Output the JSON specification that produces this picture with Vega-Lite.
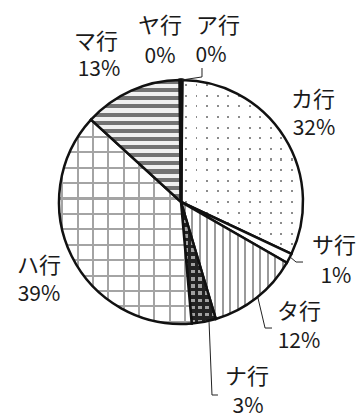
{
  "$schema": "https://vega.github.io/schema/vega-lite/v6.json",
  "width": 360,
  "height": 418,
  "autosize": {"type": "none"},
  "padding": 0,
  "background": "white",
  "config": {"view": {"stroke": null}},
  "datasets": {
    "slices": [
      {"k": "ア行", "v": 0.15, "o": 1},
      {"k": "カ行", "v": 31.85, "o": 2},
      {"k": "サ行", "v": 1.3, "o": 3},
      {"k": "タ行", "v": 12.1, "o": 4},
      {"k": "ナ行", "v": 3.2, "o": 5},
      {"k": "ハ行", "v": 38.2, "o": 6},
      {"k": "マ行", "v": 13.05, "o": 7},
      {"k": "ヤ行", "v": 0.15, "o": 8}
    ],
    "labels": [
      {"name": "マ行", "pct": "13%", "x": -0.697, "y": 1.311, "px": -0.672, "py": 1.082},
      {"name": "ヤ行", "pct": "0%", "x": -0.172, "y": 1.44, "px": -0.172, "py": 1.19},
      {"name": "ア行", "pct": "0%", "x": 0.303, "y": 1.44, "px": 0.246, "py": 1.2},
      {"name": "カ行", "pct": "32%", "x": 1.082, "y": 0.836, "px": 1.09, "py": 0.598},
      {"name": "サ行", "pct": "1%", "x": 1.254, "y": -0.361, "px": 1.27, "py": -0.615},
      {"name": "タ行", "pct": "12%", "x": 0.967, "y": -0.902, "px": 0.967, "py": -1.148},
      {"name": "ナ行", "pct": "3%", "x": 0.541, "y": -1.434, "px": 0.549, "py": -1.68},
      {"name": "ハ行", "pct": "39%", "x": -1.164, "y": -0.525, "px": -1.164, "py": -0.762}
    ],
    "leaders": [
      {"id": "a", "i": 1, "x": 0.008, "y": 1.0},
      {"id": "a", "i": 2, "x": 0.172, "y": 1.025},
      {"id": "a", "i": 3, "x": 0.172, "y": 1.098},
      {"id": "s", "i": 1, "x": 0.885, "y": -0.443},
      {"id": "s", "i": 2, "x": 0.943, "y": -0.492},
      {"id": "s", "i": 3, "x": 1.0, "y": -0.492},
      {"id": "t", "i": 1, "x": 0.631, "y": -0.787},
      {"id": "t", "i": 2, "x": 0.689, "y": -1.033},
      {"id": "t", "i": 3, "x": 0.746, "y": -1.033},
      {"id": "n", "i": 1, "x": 0.23, "y": -0.984},
      {"id": "n", "i": 2, "x": 0.254, "y": -1.582},
      {"id": "n", "i": 3, "x": 0.303, "y": -1.582}
    ]
  },
  "layer": [
    {
      "data": {"name": "slices"},
      "transform": [
        {"stack": "v", "groupby": [], "sort": [{"field": "o", "order": "ascending"}], "as": ["v0", "v1"]},
        {"filter": "datum.k === 'カ行'"}
      ],
      "mark": {"type": "arc", "radius": 122, "strokeWidth": 0, "fill": {"gradient": "linear", "x1": 0, "y1": 0, "x2": 1, "y2": 0, "stops": [
        {"offset": 0, "color": "#ffffff"}, {"offset": 0.032, "color": "#ffffff"}, {"offset": 0.032, "color": "#8c8c8c"}, {"offset": 0.048, "color": "#8c8c8c"}, {"offset": 0.048, "color": "#ffffff"},
        {"offset": 0.119, "color": "#ffffff"}, {"offset": 0.119, "color": "#8c8c8c"}, {"offset": 0.135, "color": "#8c8c8c"}, {"offset": 0.135, "color": "#ffffff"},
        {"offset": 0.206, "color": "#ffffff"}, {"offset": 0.206, "color": "#8c8c8c"}, {"offset": 0.222, "color": "#8c8c8c"}, {"offset": 0.222, "color": "#ffffff"},
        {"offset": 0.293, "color": "#ffffff"}, {"offset": 0.293, "color": "#8c8c8c"}, {"offset": 0.309, "color": "#8c8c8c"}, {"offset": 0.309, "color": "#ffffff"},
        {"offset": 0.38, "color": "#ffffff"}, {"offset": 0.38, "color": "#8c8c8c"}, {"offset": 0.396, "color": "#8c8c8c"}, {"offset": 0.396, "color": "#ffffff"},
        {"offset": 0.467, "color": "#ffffff"}, {"offset": 0.467, "color": "#8c8c8c"}, {"offset": 0.483, "color": "#8c8c8c"}, {"offset": 0.483, "color": "#ffffff"},
        {"offset": 0.554, "color": "#ffffff"}, {"offset": 0.554, "color": "#8c8c8c"}, {"offset": 0.57, "color": "#8c8c8c"}, {"offset": 0.57, "color": "#ffffff"},
        {"offset": 0.641, "color": "#ffffff"}, {"offset": 0.641, "color": "#8c8c8c"}, {"offset": 0.657, "color": "#8c8c8c"}, {"offset": 0.657, "color": "#ffffff"},
        {"offset": 0.728, "color": "#ffffff"}, {"offset": 0.728, "color": "#8c8c8c"}, {"offset": 0.744, "color": "#8c8c8c"}, {"offset": 0.744, "color": "#ffffff"},
        {"offset": 0.815, "color": "#ffffff"}, {"offset": 0.815, "color": "#8c8c8c"}, {"offset": 0.831, "color": "#8c8c8c"}, {"offset": 0.831, "color": "#ffffff"},
        {"offset": 0.902, "color": "#ffffff"}, {"offset": 0.902, "color": "#8c8c8c"}, {"offset": 0.918, "color": "#8c8c8c"}, {"offset": 0.918, "color": "#ffffff"},
        {"offset": 1, "color": "#ffffff"}
      ]}},
      "encoding": {
        "theta": {"field": "v0", "type": "quantitative", "scale": {"domain": [0, 100], "range": [0, 6.283185]}},
        "theta2": {"field": "v1"},
        "x": {"datum": 0, "type": "quantitative", "scale": {"domain": [-1.4836, 1.4672], "nice": false, "zero": false}, "axis": null},
        "y": {"datum": 0, "type": "quantitative", "scale": {"domain": [-1.7705, 1.6557], "nice": false, "zero": false}, "axis": null}
      }
    },
    {
      "data": {"name": "slices"},
      "transform": [
        {"stack": "v", "groupby": [], "sort": [{"field": "o", "order": "ascending"}], "as": ["v0", "v1"]},
        {"filter": "datum.k === 'カ行'"}
      ],
      "mark": {"type": "arc", "radius": 122, "stroke": "#111111", "strokeWidth": 2.5, "fill": {"gradient": "linear", "x1": 0, "y1": 0, "x2": 0, "y2": 1, "stops": [
        {"offset": 0, "color": "#ffffff"}, {"offset": 0.024, "color": "#ffffff"}, {"offset": 0.024, "color": "rgba(255,255,255,0)"}, {"offset": 0.036, "color": "rgba(255,255,255,0)"}, {"offset": 0.036, "color": "#ffffff"},
        {"offset": 0.085, "color": "#ffffff"}, {"offset": 0.085, "color": "rgba(255,255,255,0)"}, {"offset": 0.097, "color": "rgba(255,255,255,0)"}, {"offset": 0.097, "color": "#ffffff"},
        {"offset": 0.146, "color": "#ffffff"}, {"offset": 0.146, "color": "rgba(255,255,255,0)"}, {"offset": 0.158, "color": "rgba(255,255,255,0)"}, {"offset": 0.158, "color": "#ffffff"},
        {"offset": 0.207, "color": "#ffffff"}, {"offset": 0.207, "color": "rgba(255,255,255,0)"}, {"offset": 0.219, "color": "rgba(255,255,255,0)"}, {"offset": 0.219, "color": "#ffffff"},
        {"offset": 0.268, "color": "#ffffff"}, {"offset": 0.268, "color": "rgba(255,255,255,0)"}, {"offset": 0.28, "color": "rgba(255,255,255,0)"}, {"offset": 0.28, "color": "#ffffff"},
        {"offset": 0.329, "color": "#ffffff"}, {"offset": 0.329, "color": "rgba(255,255,255,0)"}, {"offset": 0.341, "color": "rgba(255,255,255,0)"}, {"offset": 0.341, "color": "#ffffff"},
        {"offset": 0.39, "color": "#ffffff"}, {"offset": 0.39, "color": "rgba(255,255,255,0)"}, {"offset": 0.402, "color": "rgba(255,255,255,0)"}, {"offset": 0.402, "color": "#ffffff"},
        {"offset": 0.451, "color": "#ffffff"}, {"offset": 0.451, "color": "rgba(255,255,255,0)"}, {"offset": 0.463, "color": "rgba(255,255,255,0)"}, {"offset": 0.463, "color": "#ffffff"},
        {"offset": 0.512, "color": "#ffffff"}, {"offset": 0.512, "color": "rgba(255,255,255,0)"}, {"offset": 0.524, "color": "rgba(255,255,255,0)"}, {"offset": 0.524, "color": "#ffffff"},
        {"offset": 0.573, "color": "#ffffff"}, {"offset": 0.573, "color": "rgba(255,255,255,0)"}, {"offset": 0.585, "color": "rgba(255,255,255,0)"}, {"offset": 0.585, "color": "#ffffff"},
        {"offset": 0.634, "color": "#ffffff"}, {"offset": 0.634, "color": "rgba(255,255,255,0)"}, {"offset": 0.646, "color": "rgba(255,255,255,0)"}, {"offset": 0.646, "color": "#ffffff"},
        {"offset": 0.695, "color": "#ffffff"}, {"offset": 0.695, "color": "rgba(255,255,255,0)"}, {"offset": 0.707, "color": "rgba(255,255,255,0)"}, {"offset": 0.707, "color": "#ffffff"},
        {"offset": 0.756, "color": "#ffffff"}, {"offset": 0.756, "color": "rgba(255,255,255,0)"}, {"offset": 0.768, "color": "rgba(255,255,255,0)"}, {"offset": 0.768, "color": "#ffffff"},
        {"offset": 0.817, "color": "#ffffff"}, {"offset": 0.817, "color": "rgba(255,255,255,0)"}, {"offset": 0.829, "color": "rgba(255,255,255,0)"}, {"offset": 0.829, "color": "#ffffff"},
        {"offset": 0.878, "color": "#ffffff"}, {"offset": 0.878, "color": "rgba(255,255,255,0)"}, {"offset": 0.89, "color": "rgba(255,255,255,0)"}, {"offset": 0.89, "color": "#ffffff"},
        {"offset": 0.939, "color": "#ffffff"}, {"offset": 0.939, "color": "rgba(255,255,255,0)"}, {"offset": 0.951, "color": "rgba(255,255,255,0)"}, {"offset": 0.951, "color": "#ffffff"},
        {"offset": 1, "color": "#ffffff"}
      ]}},
      "encoding": {
        "theta": {"field": "v0", "type": "quantitative", "scale": {"domain": [0, 100], "range": [0, 6.283185]}},
        "theta2": {"field": "v1"},
        "x": {"datum": 0, "type": "quantitative", "scale": {"domain": [-1.4836, 1.4672], "nice": false, "zero": false}, "axis": null},
        "y": {"datum": 0, "type": "quantitative", "scale": {"domain": [-1.7705, 1.6557], "nice": false, "zero": false}, "axis": null}
      }
    },
    {
      "data": {"name": "slices"},
      "transform": [
        {"stack": "v", "groupby": [], "sort": [{"field": "o", "order": "ascending"}], "as": ["v0", "v1"]},
        {"filter": "datum.k === 'サ行'"}
      ],
      "mark": {"type": "arc", "radius": 122, "stroke": "#111111", "strokeWidth": 2.5, "fill": "#ffffff"},
      "encoding": {
        "theta": {"field": "v0", "type": "quantitative", "scale": {"domain": [0, 100], "range": [0, 6.283185]}},
        "theta2": {"field": "v1"},
        "x": {"datum": 0, "type": "quantitative", "scale": {"domain": [-1.4836, 1.4672], "nice": false, "zero": false}, "axis": null},
        "y": {"datum": 0, "type": "quantitative", "scale": {"domain": [-1.7705, 1.6557], "nice": false, "zero": false}, "axis": null}
      }
    },
    {
      "data": {"name": "slices"},
      "transform": [
        {"stack": "v", "groupby": [], "sort": [{"field": "o", "order": "ascending"}], "as": ["v0", "v1"]},
        {"filter": "datum.k === 'タ行'"}
      ],
      "mark": {"type": "arc", "radius": 122, "stroke": "#111111", "strokeWidth": 2.5, "fill": {"gradient": "linear", "x1": 0, "y1": 0, "x2": 1, "y2": 0, "stops": [
        {"offset": 0, "color": "#ffffff"}, {"offset": 0.0262, "color": "#ffffff"}, {"offset": 0.0262, "color": "#9a9a9a"}, {"offset": 0.0452, "color": "#9a9a9a"}, {"offset": 0.0452, "color": "#ffffff"},
        {"offset": 0.0976, "color": "#ffffff"}, {"offset": 0.0976, "color": "#9a9a9a"}, {"offset": 0.1166, "color": "#9a9a9a"}, {"offset": 0.1166, "color": "#ffffff"},
        {"offset": 0.1691, "color": "#ffffff"}, {"offset": 0.1691, "color": "#9a9a9a"}, {"offset": 0.1881, "color": "#9a9a9a"}, {"offset": 0.1881, "color": "#ffffff"},
        {"offset": 0.2405, "color": "#ffffff"}, {"offset": 0.2405, "color": "#9a9a9a"}, {"offset": 0.2595, "color": "#9a9a9a"}, {"offset": 0.2595, "color": "#ffffff"},
        {"offset": 0.3119, "color": "#ffffff"}, {"offset": 0.3119, "color": "#9a9a9a"}, {"offset": 0.3309, "color": "#9a9a9a"}, {"offset": 0.3309, "color": "#ffffff"},
        {"offset": 0.3834, "color": "#ffffff"}, {"offset": 0.3834, "color": "#9a9a9a"}, {"offset": 0.4024, "color": "#9a9a9a"}, {"offset": 0.4024, "color": "#ffffff"},
        {"offset": 0.4548, "color": "#ffffff"}, {"offset": 0.4548, "color": "#9a9a9a"}, {"offset": 0.4738, "color": "#9a9a9a"}, {"offset": 0.4738, "color": "#ffffff"},
        {"offset": 0.5262, "color": "#ffffff"}, {"offset": 0.5262, "color": "#9a9a9a"}, {"offset": 0.5452, "color": "#9a9a9a"}, {"offset": 0.5452, "color": "#ffffff"},
        {"offset": 0.5976, "color": "#ffffff"}, {"offset": 0.5976, "color": "#9a9a9a"}, {"offset": 0.6166, "color": "#9a9a9a"}, {"offset": 0.6166, "color": "#ffffff"},
        {"offset": 0.6691, "color": "#ffffff"}, {"offset": 0.6691, "color": "#9a9a9a"}, {"offset": 0.6881, "color": "#9a9a9a"}, {"offset": 0.6881, "color": "#ffffff"},
        {"offset": 0.7405, "color": "#ffffff"}, {"offset": 0.7405, "color": "#9a9a9a"}, {"offset": 0.7595, "color": "#9a9a9a"}, {"offset": 0.7595, "color": "#ffffff"},
        {"offset": 0.8119, "color": "#ffffff"}, {"offset": 0.8119, "color": "#9a9a9a"}, {"offset": 0.8309, "color": "#9a9a9a"}, {"offset": 0.8309, "color": "#ffffff"},
        {"offset": 0.8834, "color": "#ffffff"}, {"offset": 0.8834, "color": "#9a9a9a"}, {"offset": 0.9024, "color": "#9a9a9a"}, {"offset": 0.9024, "color": "#ffffff"},
        {"offset": 0.9548, "color": "#ffffff"}, {"offset": 0.9548, "color": "#9a9a9a"}, {"offset": 0.9738, "color": "#9a9a9a"}, {"offset": 0.9738, "color": "#ffffff"},
        {"offset": 1, "color": "#ffffff"}
      ]}},
      "encoding": {
        "theta": {"field": "v0", "type": "quantitative", "scale": {"domain": [0, 100], "range": [0, 6.283185]}},
        "theta2": {"field": "v1"},
        "x": {"datum": 0, "type": "quantitative", "scale": {"domain": [-1.4836, 1.4672], "nice": false, "zero": false}, "axis": null},
        "y": {"datum": 0, "type": "quantitative", "scale": {"domain": [-1.7705, 1.6557], "nice": false, "zero": false}, "axis": null}
      }
    },
    {
      "data": {"name": "slices"},
      "transform": [
        {"stack": "v", "groupby": [], "sort": [{"field": "o", "order": "ascending"}], "as": ["v0", "v1"]},
        {"filter": "datum.k === 'ナ行'"}
      ],
      "mark": {"type": "arc", "radius": 122, "strokeWidth": 0, "fill": {"gradient": "linear", "x1": 0, "y1": 0, "x2": 1, "y2": 0, "stops": [
        {"offset": 0, "color": "#222222"}, {"offset": 0.1, "color": "#222222"}, {"offset": 0.1, "color": "#a0a0a0"}, {"offset": 0.2, "color": "#a0a0a0"},
        {"offset": 0.2, "color": "#222222"}, {"offset": 0.3, "color": "#222222"}, {"offset": 0.3, "color": "#a0a0a0"}, {"offset": 0.4, "color": "#a0a0a0"},
        {"offset": 0.4, "color": "#222222"}, {"offset": 0.5, "color": "#222222"}, {"offset": 0.5, "color": "#a0a0a0"}, {"offset": 0.6, "color": "#a0a0a0"},
        {"offset": 0.6, "color": "#222222"}, {"offset": 0.7, "color": "#222222"}, {"offset": 0.7, "color": "#a0a0a0"}, {"offset": 0.8, "color": "#a0a0a0"},
        {"offset": 0.8, "color": "#222222"}, {"offset": 0.9, "color": "#222222"}, {"offset": 0.9, "color": "#a0a0a0"}, {"offset": 1, "color": "#a0a0a0"}
      ]}},
      "encoding": {
        "theta": {"field": "v0", "type": "quantitative", "scale": {"domain": [0, 100], "range": [0, 6.283185]}},
        "theta2": {"field": "v1"},
        "x": {"datum": 0, "type": "quantitative", "scale": {"domain": [-1.4836, 1.4672], "nice": false, "zero": false}, "axis": null},
        "y": {"datum": 0, "type": "quantitative", "scale": {"domain": [-1.7705, 1.6557], "nice": false, "zero": false}, "axis": null}
      }
    },
    {
      "data": {"name": "slices"},
      "transform": [
        {"stack": "v", "groupby": [], "sort": [{"field": "o", "order": "ascending"}], "as": ["v0", "v1"]},
        {"filter": "datum.k === 'ナ行'"}
      ],
      "mark": {"type": "arc", "radius": 122, "stroke": "#111111", "strokeWidth": 2.5, "fill": {"gradient": "linear", "x1": 0, "y1": 0, "x2": 0, "y2": 1, "stops": [
        {"offset": 0, "color": "#222222"}, {"offset": 0.0294, "color": "#222222"}, {"offset": 0.0294, "color": "rgba(0,0,0,0)"}, {"offset": 0.0588, "color": "rgba(0,0,0,0)"},
        {"offset": 0.0588, "color": "#222222"}, {"offset": 0.0882, "color": "#222222"}, {"offset": 0.0882, "color": "rgba(0,0,0,0)"}, {"offset": 0.1176, "color": "rgba(0,0,0,0)"},
        {"offset": 0.1176, "color": "#222222"}, {"offset": 0.1471, "color": "#222222"}, {"offset": 0.1471, "color": "rgba(0,0,0,0)"}, {"offset": 0.1765, "color": "rgba(0,0,0,0)"},
        {"offset": 0.1765, "color": "#222222"}, {"offset": 0.2059, "color": "#222222"}, {"offset": 0.2059, "color": "rgba(0,0,0,0)"}, {"offset": 0.2353, "color": "rgba(0,0,0,0)"},
        {"offset": 0.2353, "color": "#222222"}, {"offset": 0.2647, "color": "#222222"}, {"offset": 0.2647, "color": "rgba(0,0,0,0)"}, {"offset": 0.2941, "color": "rgba(0,0,0,0)"},
        {"offset": 0.2941, "color": "#222222"}, {"offset": 0.3235, "color": "#222222"}, {"offset": 0.3235, "color": "rgba(0,0,0,0)"}, {"offset": 0.3529, "color": "rgba(0,0,0,0)"},
        {"offset": 0.3529, "color": "#222222"}, {"offset": 0.3824, "color": "#222222"}, {"offset": 0.3824, "color": "rgba(0,0,0,0)"}, {"offset": 0.4118, "color": "rgba(0,0,0,0)"},
        {"offset": 0.4118, "color": "#222222"}, {"offset": 0.4412, "color": "#222222"}, {"offset": 0.4412, "color": "rgba(0,0,0,0)"}, {"offset": 0.4706, "color": "rgba(0,0,0,0)"},
        {"offset": 0.4706, "color": "#222222"}, {"offset": 0.5, "color": "#222222"}, {"offset": 0.5, "color": "rgba(0,0,0,0)"}, {"offset": 0.5294, "color": "rgba(0,0,0,0)"},
        {"offset": 0.5294, "color": "#222222"}, {"offset": 0.5588, "color": "#222222"}, {"offset": 0.5588, "color": "rgba(0,0,0,0)"}, {"offset": 0.5882, "color": "rgba(0,0,0,0)"},
        {"offset": 0.5882, "color": "#222222"}, {"offset": 0.6176, "color": "#222222"}, {"offset": 0.6176, "color": "rgba(0,0,0,0)"}, {"offset": 0.6471, "color": "rgba(0,0,0,0)"},
        {"offset": 0.6471, "color": "#222222"}, {"offset": 0.6765, "color": "#222222"}, {"offset": 0.6765, "color": "rgba(0,0,0,0)"}, {"offset": 0.7059, "color": "rgba(0,0,0,0)"},
        {"offset": 0.7059, "color": "#222222"}, {"offset": 0.7353, "color": "#222222"}, {"offset": 0.7353, "color": "rgba(0,0,0,0)"}, {"offset": 0.7647, "color": "rgba(0,0,0,0)"},
        {"offset": 0.7647, "color": "#222222"}, {"offset": 0.7941, "color": "#222222"}, {"offset": 0.7941, "color": "rgba(0,0,0,0)"}, {"offset": 0.8235, "color": "rgba(0,0,0,0)"},
        {"offset": 0.8235, "color": "#222222"}, {"offset": 0.8529, "color": "#222222"}, {"offset": 0.8529, "color": "rgba(0,0,0,0)"}, {"offset": 0.8824, "color": "rgba(0,0,0,0)"},
        {"offset": 0.8824, "color": "#222222"}, {"offset": 0.9118, "color": "#222222"}, {"offset": 0.9118, "color": "rgba(0,0,0,0)"}, {"offset": 0.9412, "color": "rgba(0,0,0,0)"},
        {"offset": 0.9412, "color": "#222222"}, {"offset": 0.9706, "color": "#222222"}, {"offset": 0.9706, "color": "rgba(0,0,0,0)"}, {"offset": 1, "color": "rgba(0,0,0,0)"}
      ]}},
      "encoding": {
        "theta": {"field": "v0", "type": "quantitative", "scale": {"domain": [0, 100], "range": [0, 6.283185]}},
        "theta2": {"field": "v1"},
        "x": {"datum": 0, "type": "quantitative", "scale": {"domain": [-1.4836, 1.4672], "nice": false, "zero": false}, "axis": null},
        "y": {"datum": 0, "type": "quantitative", "scale": {"domain": [-1.7705, 1.6557], "nice": false, "zero": false}, "axis": null}
      }
    },
    {
      "data": {"name": "slices"},
      "transform": [
        {"stack": "v", "groupby": [], "sort": [{"field": "o", "order": "ascending"}], "as": ["v0", "v1"]},
        {"filter": "datum.k === 'ハ行'"}
      ],
      "mark": {"type": "arc", "radius": 122, "strokeWidth": 0, "fill": {"gradient": "linear", "x1": 0, "y1": 0, "x2": 1, "y2": 0, "stops": [
        {"offset": 0, "color": "#ffffff"}, {"offset": 0.0175, "color": "#ffffff"}, {"offset": 0.0175, "color": "#a4a4a4"}, {"offset": 0.0325, "color": "#a4a4a4"}, {"offset": 0.0325, "color": "#ffffff"},
        {"offset": 0.1325, "color": "#ffffff"}, {"offset": 0.1325, "color": "#a4a4a4"}, {"offset": 0.1475, "color": "#a4a4a4"}, {"offset": 0.1475, "color": "#ffffff"},
        {"offset": 0.2485, "color": "#ffffff"}, {"offset": 0.2485, "color": "#a4a4a4"}, {"offset": 0.2635, "color": "#a4a4a4"}, {"offset": 0.2635, "color": "#ffffff"},
        {"offset": 0.3635, "color": "#ffffff"}, {"offset": 0.3635, "color": "#a4a4a4"}, {"offset": 0.3785, "color": "#a4a4a4"}, {"offset": 0.3785, "color": "#ffffff"},
        {"offset": 0.4795, "color": "#ffffff"}, {"offset": 0.4795, "color": "#a4a4a4"}, {"offset": 0.4945, "color": "#a4a4a4"}, {"offset": 0.4945, "color": "#ffffff"},
        {"offset": 0.5945, "color": "#ffffff"}, {"offset": 0.5945, "color": "#a4a4a4"}, {"offset": 0.6095, "color": "#a4a4a4"}, {"offset": 0.6095, "color": "#ffffff"},
        {"offset": 0.7095, "color": "#ffffff"}, {"offset": 0.7095, "color": "#a4a4a4"}, {"offset": 0.7245, "color": "#a4a4a4"}, {"offset": 0.7245, "color": "#ffffff"},
        {"offset": 0.8255, "color": "#ffffff"}, {"offset": 0.8255, "color": "#a4a4a4"}, {"offset": 0.8405, "color": "#a4a4a4"}, {"offset": 0.8405, "color": "#ffffff"},
        {"offset": 0.9405, "color": "#ffffff"}, {"offset": 0.9405, "color": "#a4a4a4"}, {"offset": 0.9555, "color": "#a4a4a4"}, {"offset": 0.9555, "color": "#ffffff"},
        {"offset": 1, "color": "#ffffff"}
      ]}},
      "encoding": {
        "theta": {"field": "v0", "type": "quantitative", "scale": {"domain": [0, 100], "range": [0, 6.283185]}},
        "theta2": {"field": "v1"},
        "x": {"datum": 0, "type": "quantitative", "scale": {"domain": [-1.4836, 1.4672], "nice": false, "zero": false}, "axis": null},
        "y": {"datum": 0, "type": "quantitative", "scale": {"domain": [-1.7705, 1.6557], "nice": false, "zero": false}, "axis": null}
      }
    },
    {
      "data": {"name": "slices"},
      "transform": [
        {"stack": "v", "groupby": [], "sort": [{"field": "o", "order": "ascending"}], "as": ["v0", "v1"]},
        {"filter": "datum.k === 'ハ行'"}
      ],
      "mark": {"type": "arc", "radius": 122, "stroke": "#111111", "strokeWidth": 2.5, "fill": {"gradient": "linear", "x1": 0, "y1": 0, "x2": 0, "y2": 1, "stops": [
        {"offset": 0, "color": "#a4a4a4"}, {"offset": 0.013, "color": "#a4a4a4"}, {"offset": 0.013, "color": "rgba(255,255,255,0)"},
        {"offset": 0.079, "color": "rgba(255,255,255,0)"}, {"offset": 0.079, "color": "#a4a4a4"}, {"offset": 0.089, "color": "#a4a4a4"}, {"offset": 0.089, "color": "rgba(255,255,255,0)"},
        {"offset": 0.154, "color": "rgba(255,255,255,0)"}, {"offset": 0.154, "color": "#a4a4a4"}, {"offset": 0.164, "color": "#a4a4a4"}, {"offset": 0.164, "color": "rgba(255,255,255,0)"},
        {"offset": 0.23, "color": "rgba(255,255,255,0)"}, {"offset": 0.23, "color": "#a4a4a4"}, {"offset": 0.24, "color": "#a4a4a4"}, {"offset": 0.24, "color": "rgba(255,255,255,0)"},
        {"offset": 0.305, "color": "rgba(255,255,255,0)"}, {"offset": 0.305, "color": "#a4a4a4"}, {"offset": 0.315, "color": "#a4a4a4"}, {"offset": 0.315, "color": "rgba(255,255,255,0)"},
        {"offset": 0.381, "color": "rgba(255,255,255,0)"}, {"offset": 0.381, "color": "#a4a4a4"}, {"offset": 0.391, "color": "#a4a4a4"}, {"offset": 0.391, "color": "rgba(255,255,255,0)"},
        {"offset": 0.456, "color": "rgba(255,255,255,0)"}, {"offset": 0.456, "color": "#a4a4a4"}, {"offset": 0.466, "color": "#a4a4a4"}, {"offset": 0.466, "color": "rgba(255,255,255,0)"},
        {"offset": 0.532, "color": "rgba(255,255,255,0)"}, {"offset": 0.532, "color": "#a4a4a4"}, {"offset": 0.542, "color": "#a4a4a4"}, {"offset": 0.542, "color": "rgba(255,255,255,0)"},
        {"offset": 0.607, "color": "rgba(255,255,255,0)"}, {"offset": 0.607, "color": "#a4a4a4"}, {"offset": 0.617, "color": "#a4a4a4"}, {"offset": 0.617, "color": "rgba(255,255,255,0)"},
        {"offset": 0.683, "color": "rgba(255,255,255,0)"}, {"offset": 0.683, "color": "#a4a4a4"}, {"offset": 0.693, "color": "#a4a4a4"}, {"offset": 0.693, "color": "rgba(255,255,255,0)"},
        {"offset": 0.758, "color": "rgba(255,255,255,0)"}, {"offset": 0.758, "color": "#a4a4a4"}, {"offset": 0.768, "color": "#a4a4a4"}, {"offset": 0.768, "color": "rgba(255,255,255,0)"},
        {"offset": 0.834, "color": "rgba(255,255,255,0)"}, {"offset": 0.834, "color": "#a4a4a4"}, {"offset": 0.844, "color": "#a4a4a4"}, {"offset": 0.844, "color": "rgba(255,255,255,0)"},
        {"offset": 0.909, "color": "rgba(255,255,255,0)"}, {"offset": 0.909, "color": "#a4a4a4"}, {"offset": 0.919, "color": "#a4a4a4"}, {"offset": 0.919, "color": "rgba(255,255,255,0)"},
        {"offset": 0.985, "color": "rgba(255,255,255,0)"}, {"offset": 0.985, "color": "#a4a4a4"}, {"offset": 0.995, "color": "#a4a4a4"}, {"offset": 0.995, "color": "rgba(255,255,255,0)"},
        {"offset": 1, "color": "rgba(255,255,255,0)"}
      ]}},
      "encoding": {
        "theta": {"field": "v0", "type": "quantitative", "scale": {"domain": [0, 100], "range": [0, 6.283185]}},
        "theta2": {"field": "v1"},
        "x": {"datum": 0, "type": "quantitative", "scale": {"domain": [-1.4836, 1.4672], "nice": false, "zero": false}, "axis": null},
        "y": {"datum": 0, "type": "quantitative", "scale": {"domain": [-1.7705, 1.6557], "nice": false, "zero": false}, "axis": null}
      }
    },
    {
      "data": {"name": "slices"},
      "transform": [
        {"stack": "v", "groupby": [], "sort": [{"field": "o", "order": "ascending"}], "as": ["v0", "v1"]},
        {"filter": "datum.k === 'マ行'"}
      ],
      "mark": {"type": "arc", "radius": 122, "stroke": "#111111", "strokeWidth": 2.5, "fill": {"gradient": "linear", "x1": 0, "y1": 0, "x2": 0, "y2": 1, "stops": [
        {"offset": 0, "color": "#737373"}, {"offset": 0.0333, "color": "#737373"}, {"offset": 0.0333, "color": "#f0f0f0"}, {"offset": 0.0667, "color": "#f0f0f0"},
        {"offset": 0.0667, "color": "#737373"}, {"offset": 0.1, "color": "#737373"}, {"offset": 0.1, "color": "#f0f0f0"}, {"offset": 0.1333, "color": "#f0f0f0"},
        {"offset": 0.1333, "color": "#737373"}, {"offset": 0.1667, "color": "#737373"}, {"offset": 0.1667, "color": "#f0f0f0"}, {"offset": 0.2, "color": "#f0f0f0"},
        {"offset": 0.2, "color": "#737373"}, {"offset": 0.2333, "color": "#737373"}, {"offset": 0.2333, "color": "#f0f0f0"}, {"offset": 0.2667, "color": "#f0f0f0"},
        {"offset": 0.2667, "color": "#737373"}, {"offset": 0.3, "color": "#737373"}, {"offset": 0.3, "color": "#f0f0f0"}, {"offset": 0.3333, "color": "#f0f0f0"},
        {"offset": 0.3333, "color": "#737373"}, {"offset": 0.3667, "color": "#737373"}, {"offset": 0.3667, "color": "#f0f0f0"}, {"offset": 0.4, "color": "#f0f0f0"},
        {"offset": 0.4, "color": "#737373"}, {"offset": 0.4333, "color": "#737373"}, {"offset": 0.4333, "color": "#f0f0f0"}, {"offset": 0.4667, "color": "#f0f0f0"},
        {"offset": 0.4667, "color": "#737373"}, {"offset": 0.5, "color": "#737373"}, {"offset": 0.5, "color": "#f0f0f0"}, {"offset": 0.5333, "color": "#f0f0f0"},
        {"offset": 0.5333, "color": "#737373"}, {"offset": 0.5667, "color": "#737373"}, {"offset": 0.5667, "color": "#f0f0f0"}, {"offset": 0.6, "color": "#f0f0f0"},
        {"offset": 0.6, "color": "#737373"}, {"offset": 0.6333, "color": "#737373"}, {"offset": 0.6333, "color": "#f0f0f0"}, {"offset": 0.6667, "color": "#f0f0f0"},
        {"offset": 0.6667, "color": "#737373"}, {"offset": 0.7, "color": "#737373"}, {"offset": 0.7, "color": "#f0f0f0"}, {"offset": 0.7333, "color": "#f0f0f0"},
        {"offset": 0.7333, "color": "#737373"}, {"offset": 0.7667, "color": "#737373"}, {"offset": 0.7667, "color": "#f0f0f0"}, {"offset": 0.8, "color": "#f0f0f0"},
        {"offset": 0.8, "color": "#737373"}, {"offset": 0.8333, "color": "#737373"}, {"offset": 0.8333, "color": "#f0f0f0"}, {"offset": 0.8667, "color": "#f0f0f0"},
        {"offset": 0.8667, "color": "#737373"}, {"offset": 0.9, "color": "#737373"}, {"offset": 0.9, "color": "#f0f0f0"}, {"offset": 0.9333, "color": "#f0f0f0"},
        {"offset": 0.9333, "color": "#737373"}, {"offset": 0.9667, "color": "#737373"}, {"offset": 0.9667, "color": "#f0f0f0"}, {"offset": 1, "color": "#f0f0f0"}
      ]}},
      "encoding": {
        "theta": {"field": "v0", "type": "quantitative", "scale": {"domain": [0, 100], "range": [0, 6.283185]}},
        "theta2": {"field": "v1"},
        "x": {"datum": 0, "type": "quantitative", "scale": {"domain": [-1.4836, 1.4672], "nice": false, "zero": false}, "axis": null},
        "y": {"datum": 0, "type": "quantitative", "scale": {"domain": [-1.7705, 1.6557], "nice": false, "zero": false}, "axis": null}
      }
    },
    {
      "data": {"name": "slices"},
      "transform": [
        {"stack": "v", "groupby": [], "sort": [{"field": "o", "order": "ascending"}], "as": ["v0", "v1"]},
        {"filter": "datum.k === 'ア行' || datum.k === 'ヤ行'"}
      ],
      "mark": {"type": "arc", "radius": 122, "stroke": "#111111", "strokeWidth": 3, "fill": "#111111"},
      "encoding": {
        "theta": {"field": "v0", "type": "quantitative", "scale": {"domain": [0, 100], "range": [0, 6.283185]}},
        "theta2": {"field": "v1"},
        "x": {"datum": 0, "type": "quantitative", "scale": {"domain": [-1.4836, 1.4672], "nice": false, "zero": false}, "axis": null},
        "y": {"datum": 0, "type": "quantitative", "scale": {"domain": [-1.7705, 1.6557], "nice": false, "zero": false}, "axis": null}
      }
    },
    {
      "data": {"name": "leaders"},
      "mark": {"type": "line", "stroke": "#222222", "strokeWidth": 1},
      "encoding": {
        "x": {"field": "x", "type": "quantitative", "scale": {"domain": [-1.4836, 1.4672], "nice": false, "zero": false}, "axis": null},
        "y": {"field": "y", "type": "quantitative", "scale": {"domain": [-1.7705, 1.6557], "nice": false, "zero": false}, "axis": null},
        "detail": {"field": "id"},
        "order": {"field": "i", "type": "quantitative"}
      }
    },
    {
      "data": {"name": "labels"},
      "mark": {"type": "text", "font": "Noto Sans CJK JP", "fontSize": 22, "align": "center", "baseline": "middle", "color": "#1a1a1a"},
      "encoding": {
        "x": {"field": "x", "type": "quantitative", "scale": {"domain": [-1.4836, 1.4672], "nice": false, "zero": false}, "axis": null},
        "y": {"field": "y", "type": "quantitative", "scale": {"domain": [-1.7705, 1.6557], "nice": false, "zero": false}, "axis": null},
        "text": {"field": "name"}
      }
    },
    {
      "data": {"name": "labels"},
      "mark": {"type": "text", "font": "Noto Sans CJK JP", "fontSize": 21, "align": "center", "baseline": "middle", "color": "#1a1a1a"},
      "encoding": {
        "x": {"field": "px", "type": "quantitative", "scale": {"domain": [-1.4836, 1.4672], "nice": false, "zero": false}, "axis": null},
        "y": {"field": "py", "type": "quantitative", "scale": {"domain": [-1.7705, 1.6557], "nice": false, "zero": false}, "axis": null},
        "text": {"field": "pct"}
      }
    }
  ]
}
